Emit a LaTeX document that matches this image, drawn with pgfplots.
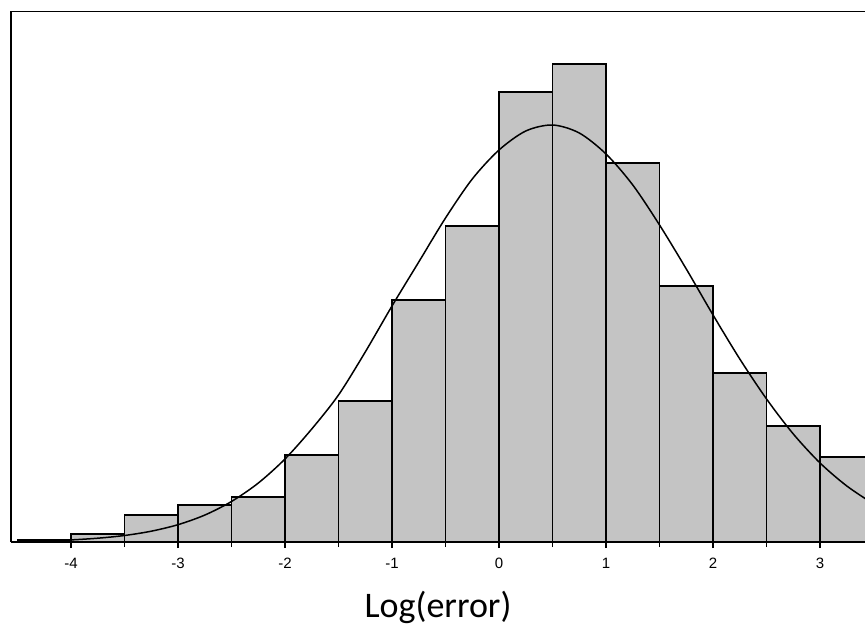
\documentclass[border=0pt]{standalone}
\usepackage{fontspec}
\setmainfont{Liberation Sans}
\newfontfamily\labfont{Carlito}
\usepackage{pgfplots}
\pgfplotsset{compat=1.18}
\definecolor{cBar}{HTML}{C4C4C4}

\begin{document}
\begin{tikzpicture}
% fixed page: 1px of the 865x628 target = 0.5pt
\path[use as bounding box] (-5.5pt,-43pt) rectangle (427pt,271pt);
\begin{axis}[
  scale only axis, width=427pt, height=265.5pt,
  xmin=-4.56, xmax=3.42, ymin=0, ymax=531,
  axis x line*=bottom, axis y line*=left,
  axis line style={line width=0.8pt, -},
  xtick={-4,-3,-2,-1,0,1,2,3}, minor x tick num=1,
  ytick=\empty,
  tick align=outside,
  major tick length=3pt, minor tick length=2.5pt,
  tick style={line width=0.6pt, black},
  /pgf/number format/assume math mode=true,
  xticklabel style={font=\fontsize{7.5}{8}\selectfont, yshift=-1.5pt},
  xlabel={Log(error)},
  xlabel style={font=\labfont\fontsize{18}{20}\selectfont, at={(axis description cs:0.5,0)}, anchor=base, yshift=-37.5pt},
]
% histogram, bar heights read in px of the reference
\addplot[ybar interval, fill=cBar, draw=black, line width=0.6pt] coordinates {
  (-4.5,2) (-4,8) (-3.5,27) (-3,37) (-2.5,45) (-2,87) (-1.5,141) (-1,242)
  (-0.5,316) (0,450) (0.5,478) (1,379) (1.5,256) (2,169) (2.5,116) (3,85) (3.5,85)
};
% fitted normal curve
\addplot[smooth, black, line width=0.75pt, no marks] coordinates {
  (-4.5,0.6) (-4.25,1.2) (-4,2.1) (-3.75,3.8) (-3.5,6.5) (-3.25,10.8)
  (-3,17.3) (-2.75,26.9) (-2.5,40.5) (-2.25,58.9) (-2,83) (-1.75,113)
  (-1.5,147) (-1.25,190) (-1,236) (-0.75,280) (-0.5,324) (-0.25,363)
  (0,392) (0.25,411) (0.5,417) (0.75,409) (1,388) (1.25,357) (1.5,317)
  (1.75,273) (2,227) (2.25,183) (2.5,143) (2.75,108) (3,79) (3.25,56) (3.5,38)
};
\draw[line width=0.8pt] (rel axis cs:0,1) -- (rel axis cs:1,1);
\end{axis}
\end{tikzpicture}
\end{document}
